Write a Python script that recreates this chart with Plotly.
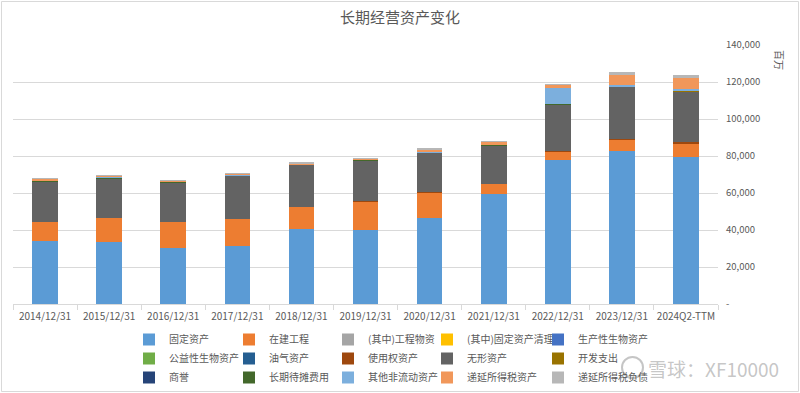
import plotly.graph_objects as go

categories = ["2014/12/31", "2015/12/31", "2016/12/31", "2017/12/31", "2018/12/31",
              "2019/12/31", "2020/12/31", "2021/12/31", "2022/12/31", "2023/12/31", "2024Q2-TTM"]

fixed_assets = [34000, 33700, 30300, 31500, 40500, 40000, 46500, 59300, 78100, 82500, 79200]
construction_in_progress = [10100, 13000, 13800, 14600, 12100, 15500, 13600, 5600, 4300, 6300, 7700]
engineering_materials = [0, 0, 0, 0, 0, 0, 0, 0, 0, 0, 0]
fixed_asset_disposal = [0, 0, 0, 0, 0, 0, 0, 0, 0, 0, 0]
productive_bio_assets = [0, 0, 0, 0, 0, 0, 0, 0, 0, 0, 0]
public_bio_assets = [0, 0, 0, 0, 0, 0, 0, 0, 0, 0, 0]
oil_gas_assets = [0, 0, 0, 0, 0, 0, 0, 0, 0, 0, 0]
right_of_use_assets = [0, 0, 0, 0, 0, 200, 200, 200, 500, 300, 600]
intangible_assets = [22200, 21400, 21600, 23300, 22600, 22000, 21500, 20600, 24900, 28200, 27400]
development_costs = [0, 0, 0, 0, 0, 0, 0, 0, 300, 300, 300]
goodwill = [0, 0, 0, 0, 0, 0, 0, 0, 0, 0, 0]
long_term_prepaid = [200, 300, 300, 300, 300, 300, 300, 300, 200, 200, 300]
other_noncurrent = [300, 600, 100, 100, 100, 100, 100, 100, 8700, 600, 500]
deferred_tax_assets = [900, 400, 800, 600, 600, 600, 1300, 1800, 1400, 5400, 6000]
deferred_tax_liabilities = [200, 200, 100, 100, 100, 100, 500, 100, 200, 1600, 1700]

series_names = ["固定资产", "在建工程", "(其中)工程物资", "(其中)固定资产清理", "生产性生物资产",
                "公益性生物资产", "油气资产", "使用权资产", "无形资产", "开发支出",
                "商誉", "长期待摊费用", "其他非流动资产", "递延所得税资产", "递延所得税负债"]
series_values = [fixed_assets, construction_in_progress, engineering_materials, fixed_asset_disposal,
                 productive_bio_assets, public_bio_assets, oil_gas_assets, right_of_use_assets,
                 intangible_assets, development_costs, goodwill, long_term_prepaid, other_noncurrent,
                 deferred_tax_assets, deferred_tax_liabilities]
series_colors = ["#5B9BD5", "#ED7D31", "#A5A5A5", "#FFC000", "#4472C4",
                 "#70AD47", "#255E91", "#9E480E", "#636363", "#997300",
                 "#264478", "#43682B", "#7CAFDD", "#F1975A", "#B7B7B7"]

y_tickvals = [0, 20000, 40000, 60000, 80000, 100000, 120000, 140000]
y_ticktext = ["-", "20,000", "40,000", "60,000", "80,000", "100,000", "120,000", "140,000"]

W, H = 800, 393
ML, MR, MT, MB = 13, 82, 45, 89
PW, PH = W - ML - MR, H - MT - MB

def px_x(x):
    return (x - ML) / PW

def px_y(y):
    return (H - MB - y) / PH

font_family = "Noto Sans CJK SC, Noto Sans, sans-serif"
text_color = "#595959"

fig = go.Figure()
legend_ids = ["legend", "legend2", "legend3", "legend4", "legend5"]
for i, (name, vals, col) in enumerate(zip(series_names, series_values, series_colors)):
    fig.add_trace(go.Bar(
        x=categories, y=vals, name=name,
        marker=dict(color=col, line=dict(width=0)),
        legend=legend_ids[i % 5], legendgroup=name,
    ))

legend_common = dict(
    orientation="v", font=dict(size=10, color=text_color, family=font_family),
    bgcolor="rgba(0,0,0,0)", traceorder="normal", tracegroupgap=1,
    xanchor="left", yanchor="top", itemclick=False, itemdoubleclick=False,
)
col_x = [129, 229, 328, 427, 538]

layout_legends = {}
for k, lid in enumerate(legend_ids):
    layout_legends[lid] = dict(x=px_x(col_x[k]), y=px_y(325), **legend_common)

fig.update_layout(
    width=W, height=H,
    margin=dict(l=ML, r=MR, t=MT, b=MB, autoexpand=False),
    paper_bgcolor="white", plot_bgcolor="white",
    barmode="stack", bargap=0.6,
    font=dict(family=font_family, color=text_color),
    title=dict(text="长期经营资产变化", x=0.5, xanchor="center", xref="container",
               y=1 - 18 / H, yanchor="middle", yref="container",
               font=dict(size=15, color=text_color, family=font_family)),
    xaxis=dict(showgrid=False, showline=True, linecolor="#d9d9d9", linewidth=1,
               ticks="outside", tickson="boundaries", ticklen=5, tickcolor="#d9d9d9",
               tickangle=0, tickfont=dict(size=10, color=text_color), ticklabelstandoff=3,
               fixedrange=True),
    yaxis=dict(side="right", range=[0, 140000], tickvals=y_tickvals, ticktext=y_ticktext,
               showgrid=True, gridcolor="#d9d9d9", gridwidth=1, zeroline=False, showline=False,
               tickfont=dict(size=9.5, color=text_color), ticklabelstandoff=7, fixedrange=True),
    showlegend=True,
    **layout_legends,
)

fig.add_annotation(text="百万", x=px_x(780), y=px_y(60), xref="paper", yref="paper",
                   xanchor="center", yanchor="middle",
                   showarrow=False, textangle=90, font=dict(size=10, color=text_color))
fig.add_annotation(text="雪球：XF10000", x=px_x(646), y=px_y(368), xref="paper", yref="paper",
                   xanchor="left", yanchor="middle",
                   showarrow=False, font=dict(size=19, color="rgba(150,150,150,0.55)", family=font_family))
fig.add_shape(type="circle", xref="paper", yref="paper",
              x0=px_x(622), x1=px_x(643), y0=px_y(378), y1=px_y(357),
              line=dict(color="rgba(150,150,150,0.55)", width=2), fillcolor="rgba(0,0,0,0)")

fig.add_shape(type="rect", xref="paper", yref="paper",
              x0=px_x(1.5), x1=px_x(798.5), y0=px_y(391.5), y1=px_y(1.5),
              line=dict(color="#d9d9d9", width=1), fillcolor="rgba(0,0,0,0)", layer="below")

fig.write_html("out.html", config={"displayModeBar": False},
               post_script="document.body.style.margin='0';document.body.style.overflow='hidden';")
